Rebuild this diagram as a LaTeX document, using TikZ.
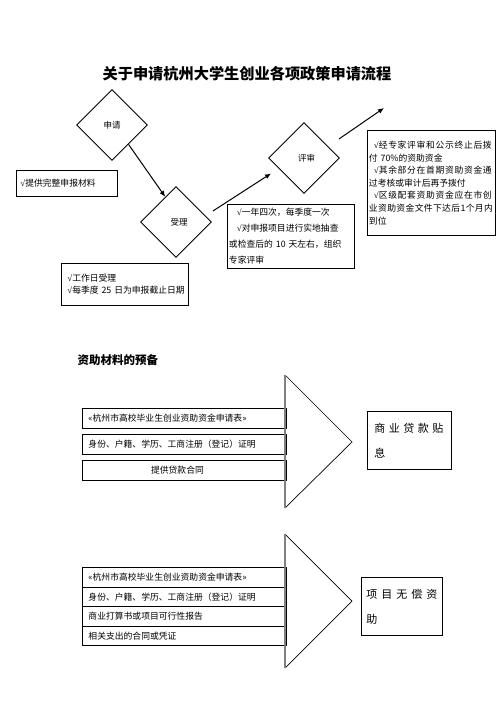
\documentclass[tikz,border=0pt]{standalone}
\usepackage{fontspec}
\setmainfont{Noto Sans CJK SC}
\newfontfamily\chkfont{Liberation Serif}
\newcommand\ck{{\chkfont √}}
\usetikzlibrary{shapes.geometric,arrows.meta,calc}
\ExplSyntaxOn
\NewDocumentCommand\spread{mm}{\makebox[#1][s]{\tl_map_inline:nn{#2}{##1\hfil}\unskip}}
\ExplSyntaxOff
\tikzset{
  box/.style={draw, line width=0.9pt, inner ysep=0pt, anchor=north west, align=left},
  dia/.style={draw, diamond, line width=0.9pt, minimum width=71pt, minimum height=71pt, inner sep=0pt, font=\fontsize{8.5}{10}\selectfont},
  arr/.style={line width=1pt, -{Latex[length=6pt,width=5pt]}},
  small/.style={font=\fontsize{8.8}{12.6}\selectfont},
  graybar/.style={draw=gray, line width=1.6pt},
  tri/.style={draw=black, line width=0.7pt}
}
\begin{document}
\begin{tikzpicture}[x=1pt,y=-1pt]
\useasboundingbox (0,0) rectangle (496,702);
\fill[white] (0,0) rectangle (496,702);

% title
\node[font=\fontsize{15.2}{18}\selectfont\bfseries] (title) at (247,74) {关于申请杭州大学生创业各项政策申请流程};

% diamonds
\node[dia] (apply) at (112,125) {申请};
\node[dia] (accept) at (176,222) {\hspace{6pt}受理};
\node[dia] (review) at (304,158) {\hspace{5pt}评审};

% notes
\node[box, small, minimum width=101pt, minimum height=26pt, inner xsep=4pt, text width=93pt] (n1) at (16,170) {\mbox{\ck 提供完整申报材料}};
\node[box, small, minimum width=127pt, minimum height=42pt, inner xsep=6pt, text width=115pt, font=\fontsize{8.8}{12}\selectfont] (n2) at (61,263) {\mbox{\ck 工作日受理}\\\mbox{\ck 每季度 25 日为申报截止日期}};
\node[box, minimum width=127pt, minimum height=64pt, inner xsep=1.5pt, text width=124pt, font=\fontsize{8.8}{16}\selectfont] (n3) at (227,204) {\mbox{\hspace{8pt}\ck 一年四次，每季度一次}\\\mbox{\hspace{8pt}\ck 对申报项目进行实地抽查}\\\mbox{或检查后的 10 天左右，组织}\\专家评审};
\node[box, minimum width=128pt, minimum height=105pt, inner xsep=1.5pt, text width=125pt, font=\fontsize{8.8}{12.6}\selectfont] (n4) at (367,130) {\hspace{5pt}\ck\spread{113pt}{经专家评审和公示终止后拨}\\付 70\%的资助资金\\\hspace{5pt}\ck\spread{113pt}{其余部分在首期资助资金通}\\过考核或审计后再予拨付\\\hspace{5pt}\ck\spread{113pt}{区级配套资助资金应在市创}\\\spread{124pt}{业资助资金文件下达后 1 个月内}\\到位};

% connectors
\coordinate (out) at (384,108);
\draw[arr] ($(apply.east)!0.54!(apply.south)$) -- ($(accept.west)!0.7!(accept.north)$);
\draw[arr] ($(accept.east)+(1,-11)$) -- ($(review.south west)+(-15,-2.5)$);
\draw[arr] ($(review.east)+(-1,-19)$) -- (out);

% section heading
\node[anchor=west, font=\fontsize{11.5}{13}\selectfont\bfseries] (sec) at (74,360) {资助材料的预备};

% group 1
\node[box, small, minimum width=204pt, minimum height=20pt, inner xsep=6pt, text width=192pt] (a1) at (82,408) {«杭州市高校毕业生创业资助资金申请表»};
\node[box, small, minimum width=204pt, minimum height=20pt, inner xsep=6pt, text width=192pt] (a2) at (82,434) {身份、户籍、学历、工商注册（登记）证明};
\node[box, small, minimum width=204pt, minimum height=20pt, inner xsep=6pt, text width=192pt, align=center] (a3) at (82,460) {\hspace{-14pt}提供贷款合同};
\draw[tri] (285,375) -- (352,442) -- (285,508);
\draw[graybar] (285,375) -- (285,508);
\node[box, minimum width=84pt, minimum height=58pt, inner xsep=7pt, text width=70pt, font=\fontsize{11}{25}\selectfont] (ra) at (367,411) {\spread{69pt}{商业贷款贴}\\息};

% group 2
\node[box, small, minimum width=204pt, minimum height=19.5pt, inner xsep=6pt, text width=192pt] (b1) at (82,567) {«杭州市高校毕业生创业资助资金申请表»};
\node[box, small, minimum width=204pt, minimum height=19.5pt, inner xsep=6pt, text width=192pt] (b2) at (82,586.5) {身份、户籍、学历、工商注册（登记）证明};
\node[box, small, minimum width=204pt, minimum height=19.5pt, inner xsep=6pt, text width=192pt] (b3) at (82,606) {商业打算书或项目可行性报告};
\node[box, small, minimum width=204pt, minimum height=19.5pt, inner xsep=6pt, text width=192pt] (b4) at (82,625.5) {相关支出的合同或凭证};
\draw[tri] (285,534) -- (352,601) -- (285,668);
\draw[graybar] (285,534) -- (285,668);
\node[box, minimum width=81pt, minimum height=58pt, inner xsep=5pt, text width=71pt, font=\fontsize{11}{25}\selectfont] (rb) at (361,577) {\spread{71pt}{项目无偿资}\\助};
\end{tikzpicture}
\end{document}
